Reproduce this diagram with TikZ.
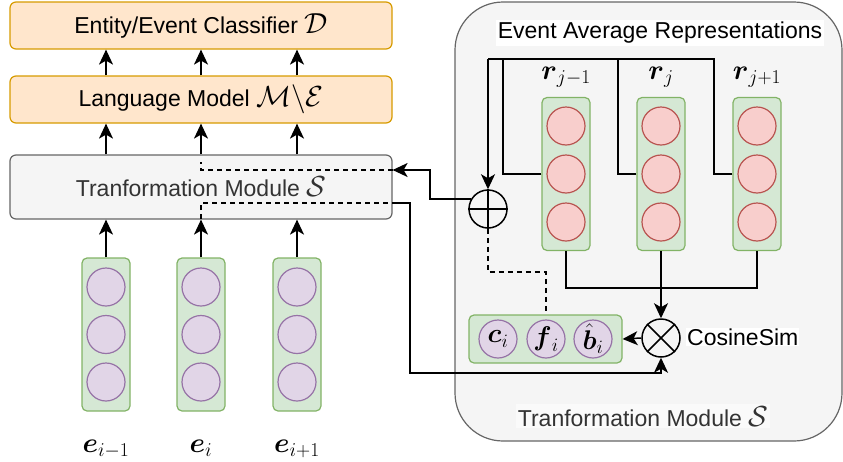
\RequirePackage{fix-cm}
\documentclass[tikz,border=0pt]{standalone}
\usepackage{amsmath,amssymb}
\usepackage{fontspec}
\setmainfont{Liberation Sans}
\usetikzlibrary{arrows.meta,calc}

\definecolor{orF}{HTML}{FFE6CC}
\definecolor{orD}{HTML}{D79B00}
\definecolor{grF}{HTML}{F5F5F5}
\definecolor{grD}{HTML}{666666}
\definecolor{txt}{HTML}{333333}
\definecolor{gnF}{HTML}{D5E8D4}
\definecolor{gnD}{HTML}{82B366}
\definecolor{rdF}{HTML}{F8CECC}
\definecolor{rdD}{HTML}{B85450}
\definecolor{puF}{HTML}{E1D5E7}
\definecolor{puD}{HTML}{9673A6}

% larger math symbols inside running text
\newcommand{\Mth}[1]{{\fontsize{29}{30}\selectfont$#1$}}

\begin{document}
\begin{tikzpicture}[x=1pt,y=-1pt,
  big/.style={font=\fontsize{23}{27}\selectfont},
  mathlbl/.style={font=\fontsize{28}{32}\selectfont, inner sep=0pt, anchor=base},
  blk/.style={draw, rounded corners=6pt, line width=1.2pt, minimum width=382pt,
    inner sep=0pt, big},
  vecbox/.style={draw=gnD, fill=gnF, rounded corners=5pt, line width=1.2pt,
    minimum width=48pt, minimum height=153pt, inner sep=0pt},
  ecirc/.style={circle, draw=puD, fill=puF, line width=1.2pt, minimum size=38pt, inner sep=0pt},
  rcirc/.style={circle, draw=rdD, fill=rdF, line width=1.2pt, minimum size=38pt, inner sep=0pt},
  ln/.style={line width=1.4pt},
  arr/.style={line width=1.5pt, -{Stealth[length=15pt,width=14pt,inset=4pt]}},
  dsh/.style={line width=1.4pt, dash pattern=on 5pt off 4pt},
  opnode/.style={circle, draw, line width=1.5pt, minimum size=38pt, inner sep=0pt},
  inlbl/.style={font=\fontsize{27}{30}\selectfont, inner sep=0pt}
]
\useasboundingbox (0,0) rectangle (843,461);

% ---------- left stack ----------
\node[blk, fill=orF, draw=orD, minimum height=47pt] (cls) at (201,25.5)
  {Entity/Event Classifier \Mth{\mathcal{D}}};
\node[blk, fill=orF, draw=orD, minimum height=47pt] (lm) at (201,99.5)
  {Language Model \Mth{\mathcal{M}\backslash\mathcal{E}}};
\node[blk, fill=grF, draw=grD, text=txt, minimum height=64pt] (tm) at (201,187)
  {Tranformation Module \Mth{\mathcal{S}}};

% input token vectors
\foreach \n/\x/\lab in {1/106/{i-1},2/201/{i},3/297/{i+1}} {
  \node[vecbox] (e\n) at (\x,334.5) {};
  \node[ecirc] (e\n a) at (\x,287) {};
  \node[ecirc] (e\n b) at (\x,334.5) {};
  \node[ecirc] (e\n c) at (\x,382) {};
  \node[mathlbl] (el\n) at (\x,452) {$\boldsymbol{e}_{\lab}$};
  \draw[arr] (e\n.north) -- (e\n |- tm.south);
  \draw[arr] (e\n |- tm.north) -- (e\n |- lm.south);
  \draw[arr] (e\n |- lm.north) -- (e\n |- cls.south);
}

% ---------- right module ----------
\node[draw=grD, fill=grF, rounded corners=48pt, line width=1.2pt,
  minimum width=387pt, minimum height=439pt, inner sep=0pt] (rm) at (648.5,221.5) {};
\node[big, fill=white, inner sep=2pt] (ttl) at (660,33) {Event Average Representations};
\node[big, fill=white!55!grF, text=txt, inner sep=2pt, anchor=base] (rml) at (643,426)
  {Tranformation Module \Mth{\mathcal{S}}};

\foreach \n/\x/\lab in {1/566/{j-1},2/661/{j},3/757/{j+1}} {
  \node[vecbox] (r\n) at (\x,174) {};
  \node[rcirc] (r\n a) at (\x,126) {};
  \node[rcirc] (r\n b) at (\x,174) {};
  \node[rcirc] (r\n c) at (\x,222) {};
  \node[mathlbl] (rl\n) at (\x,79) {$\boldsymbol{r}_{\lab}$};
}

% operators
\node[opnode] (plus) at (488,209) {};
\draw[line width=1.5pt] (plus.north) -- (plus.south) (plus.west) -- (plus.east);
\node[opnode] (ot) at (661,338) {};
\draw[line width=1.5pt] (ot.45) -- (ot.225) (ot.135) -- (ot.315);
\node[big, fill=white, inner sep=1pt, anchor=west] (cs) at (686,337) {CosineSim};

% feature vector
\node[draw=gnD, fill=gnF, rounded corners=5pt, line width=1.2pt,
  minimum width=153pt, minimum height=48pt, inner sep=0pt] (fb) at (545.5,339) {};
\node[ecirc] (ci) at (498,339) {};
\node[ecirc] (fi) at (546,339) {};
\node[ecirc] (bi) at (593,339) {};
\node[inlbl] (cil) at (ci) {$\boldsymbol{c}_i$};
\node[inlbl] (fil) at (fi) {$\boldsymbol{f}_i$};
\node[inlbl] (bil) at (bi) {$\hat{\boldsymbol{b}}_i$};

% averaging connections
\coordinate (jn) at (488,59);
\coordinate (t1) at (503,59);
\coordinate (t2) at (618,59);
\coordinate (t3) at (714,59);
\draw[ln] (r1.west |- r1b) -| (t1);
\draw[ln] (r2.west |- r2b) -| (t2);
\draw[ln] (r3.west |- r3b) -| (t3) -- (jn);
\draw[arr] (jn) -- (plus.north);

\coordinate (bj) at (661,288);
\draw[ln] (r1.south) |- (bj) -| (r3.south);
\draw[arr] (r2.south) -- (ot.north);
\draw[arr] (ot.west) -- (fb.east);

% feature back to the sum
\coordinate (d1) at (488,272);
\draw[dsh] (plus.south) -- (d1) -| (fi |- fb.north);

% links into and out of the left transformation module
\coordinate (inA) at (tm.east |- 0,170);
\coordinate (inB) at (201,170);
\coordinate (inC) at (201,162);
\coordinate (outA) at (tm.east |- 0,203);
\coordinate (outB) at (201,203);
\coordinate (outC) at (201,219);
\coordinate (k1) at (430,170);
\coordinate (k2) at (410,373);
\draw[arr] (plus.150) -| (k1) -- (inA);
\draw[dsh] (inA) -- (inB) -- (inC);
\draw[dsh] (outC) -- (outB) -- (outA);
\draw[arr] (outA) -| (k2) -| (ot.south);
\end{tikzpicture}
\end{document}
